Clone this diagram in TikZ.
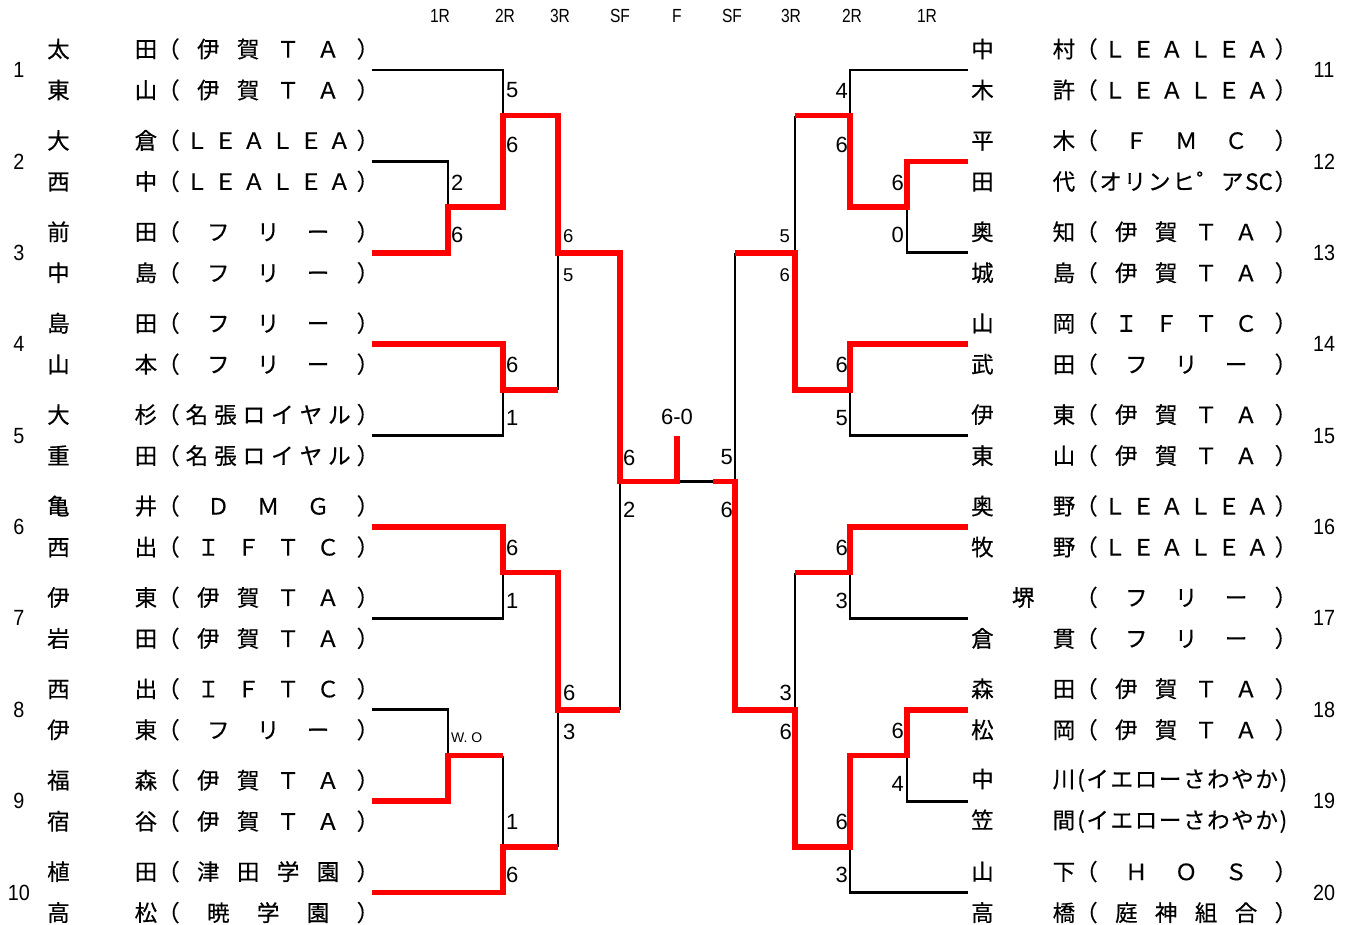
\documentclass[tikz,border=0pt]{standalone}
\usepackage{fontspec}
\setmainfont{Liberation Sans}
\newfontfamily\jp{Noto Sans CJK JP}[FakeBold=0.4]
\def\sprend{}
\def\sprloop#1{\ifx\sprend#1\else\hfill#1\expandafter\sprloop\fi}
\def\sprfirst#1{#1\sprloop}
\newcommand\spr[2]{\makebox[#1][s]{\sprfirst#2\sprend}}
\newcommand\nmL[2]{\spr{110pt}{#1}\spr{222pt}{#2}}
\newcommand\nmR[2]{\spr{104pt}{#1}\spr{222pt}{#2}}
\newcommand\nmRp[2]{\spr{104pt}{#1}\makebox[222pt][l]{\hspace{2pt}\spr{210pt}{#2}}}
\begin{document}
\begin{tikzpicture}[x=1pt,y=-1pt,
  nm/.style={anchor=west,inner sep=0pt,font=\jp\fontsize{22.5}{26}\selectfont},
  seed/.style={inner sep=0pt,font=\fontsize{22}{22}\selectfont},
  hdr/.style={inner sep=0pt,font=\fontsize{19}{19}\selectfont},
  sc/.style={inner sep=0pt,font=\fontsize{22}{22}\selectfont},
  scs/.style={inner sep=0pt,font=\fontsize{18.5}{18.5}\selectfont},
  lose/.style={draw=black,line width=2.8pt},
  win/.style={draw=red,line width=5.5pt}]
\path[use as bounding box] (0,0) rectangle (1355,924);
% header
\foreach \t/\xx [count=\i] in {1R/440,2R/505,3R/560,SF/620,F/677,SF/732,3R/791,2R/852,1R/927}
  \node[hdr] (h\i) at (\xx,16) {\scalebox{0.82}[1]{\t}};
% seeds
\foreach \s/\yy in {1/70,2/161.4,3/252.8,4/344.2,5/435.6,6/527,7/618.4,8/709.8,9/801.2,10/892.6}
  \node[seed] (seed\s) at (19,\yy) {\scalebox{0.9}[1]{\s}};
\foreach \s/\yy in {11/70,12/161.4,13/252.8,14/344.2,15/435.6,16/527,17/618.4,18/709.8,19/801.2,20/892.6}
  \node[seed] (seed\s) at (1324,\yy) {\scalebox{0.9}[1]{\s}};
% left names
\node[nm] (L1a) at (47,49) {\nmL{太田}{（伊賀ＴＡ）}};
\node[nm] (L1b) at (47,90) {\nmL{東山}{（伊賀ＴＡ）}};
\node[nm] (L2a) at (47,140.4) {\nmL{大倉}{（ＬＥＡＬＥＡ）}};
\node[nm] (L2b) at (47,181.4) {\nmL{西中}{（ＬＥＡＬＥＡ）}};
\node[nm] (L3a) at (47,231.8) {\nmL{前田}{（フリー）}};
\node[nm] (L3b) at (47,272.8) {\nmL{中島}{（フリー）}};
\node[nm] (L4a) at (47,323.2) {\nmL{島田}{（フリー）}};
\node[nm] (L4b) at (47,364.2) {\nmL{山本}{（フリー）}};
\node[nm] (L5a) at (47,414.6) {\nmL{大杉}{（名張ロイヤル）}};
\node[nm] (L5b) at (47,455.6) {\nmL{重田}{（名張ロイヤル）}};
\node[nm] (L6a) at (47,506) {\nmL{亀井}{（ＤＭＧ）}};
\node[nm] (L6b) at (47,547) {\nmL{西出}{（ＩＦＴＣ）}};
\node[nm] (L7a) at (47,597.4) {\nmL{伊東}{（伊賀ＴＡ）}};
\node[nm] (L7b) at (47,638.4) {\nmL{岩田}{（伊賀ＴＡ）}};
\node[nm] (L8a) at (47,688.8) {\nmL{西出}{（ＩＦＴＣ）}};
\node[nm] (L8b) at (47,729.8) {\nmL{伊東}{（フリー）}};
\node[nm] (L9a) at (47,780.2) {\nmL{福森}{（伊賀ＴＡ）}};
\node[nm] (L9b) at (47,821.2) {\nmL{宿谷}{（伊賀ＴＡ）}};
\node[nm] (L10a) at (47,871.6) {\nmL{植田}{（津田学園）}};
\node[nm] (L10b) at (47,912.6) {\nmL{高松}{（暁学園）}};
% right names
\node[nm] (R11a) at (971,49) {\nmR{中村}{（ＬＥＡＬＥＡ）}};
\node[nm] (R11b) at (971,90) {\nmR{木許}{（ＬＥＡＬＥＡ）}};
\node[nm] (R12a) at (971,140.4) {\nmR{平木}{（ＦＭＣ）}};
\node[nm] (R12b) at (971,181.4) {\nmR{田代}{（オリンヒ゜ア{SC}）}};
\node[nm] (R13a) at (971,231.8) {\nmR{奥知}{（伊賀ＴＡ）}};
\node[nm] (R13b) at (971,272.8) {\nmR{城島}{（伊賀ＴＡ）}};
\node[nm] (R14a) at (971,323.2) {\nmR{山岡}{（ＩＦＴＣ）}};
\node[nm] (R14b) at (971,364.2) {\nmR{武田}{（フリー）}};
\node[nm] (R15a) at (971,414.6) {\nmR{伊東}{（伊賀ＴＡ）}};
\node[nm] (R15b) at (971,455.6) {\nmR{東山}{（伊賀ＴＡ）}};
\node[nm] (R16a) at (971,506) {\nmR{奥野}{（ＬＥＡＬＥＡ）}};
\node[nm] (R16b) at (971,547) {\nmR{牧野}{（ＬＥＡＬＥＡ）}};
\node[nm] (R17a) at (971,597.4) {\makebox[104pt][c]{堺}\spr{222pt}{（フリー）}};
\node[nm] (R17b) at (971,638.4) {\nmR{倉貫}{（フリー）}};
\node[nm] (R18a) at (971,688.8) {\nmR{森田}{（伊賀ＴＡ）}};
\node[nm] (R18b) at (971,729.8) {\nmR{松岡}{（伊賀ＴＡ）}};
\node[nm] (R19a) at (971,780.2) {\nmRp{中川}{(イエローさわやか)}};
\node[nm] (R19b) at (971,821.2) {\nmRp{笠間}{(イエローさわやか)}};
\node[nm] (R20a) at (971,871.6) {\nmR{山下}{（ＨＯＳ）}};
\node[nm] (R20b) at (971,912.6) {\nmR{高橋}{（庭神組合）}};
% entry line starts
\foreach \s/\yy in {1/70,2/161.4,3/252.8,4/344.2,5/435.6,6/527,7/618.4,8/709.8,9/801.2,10/892.6}
  \coordinate (P\s) at (372,\yy);
\foreach \s/\yy in {11/70,12/161.4,13/252.8,14/344.2,15/435.6,16/527,17/618.4,18/709.8,19/801.2,20/892.6}
  \coordinate (P\s) at (968,\yy);
% junctions left
\coordinate (A23) at (448,207.1);
\coordinate (A89) at (448,755.5);
\coordinate (B1) at (503,115.7);
\coordinate (B45) at (503,389.9);
\coordinate (B67) at (503,572.7);
\coordinate (B910) at (503,846.9);
\coordinate (C1) at (558,252.8);
\coordinate (C2) at (558,709.8);
\coordinate (D) at (620,481.3);
\coordinate (F) at (677,481.3);
\coordinate (Ftop) at (677,436);
\coordinate (FR) at (713,481.3);
% junctions right
\coordinate (A1213) at (907,207.1);
\coordinate (A1819) at (907,755.5);
\coordinate (B11) at (850,115.7);
\coordinate (B1415) at (850,389.9);
\coordinate (B1617) at (850,572.7);
\coordinate (B1820) at (850,846.9);
\coordinate (C3) at (795,252.8);
\coordinate (C4) at (795,709.8);
\coordinate (E) at (735,481.3);
% losing lines
\draw[lose] (P1) -| (B1);
\draw[lose] (P2) -| (A23);
\draw[lose] (P5) -| (B45);
\draw[lose] (C1 |- B45) -- (C1);
\draw[lose] (P7) -| (B67);
\draw[lose] (P8) -| (A89);
\draw[lose] (A89 -| B910) -- (B910);
\draw[lose] (C2 |- B910) -- (C2);
\draw[lose] (D |- C2) -- (D);
\draw[lose] (F) -- (FR);
\draw[lose] (P11) -| (B11);
\draw[lose] (P13) -| (A1213);
\draw[lose] (P15) -| (B1415);
\draw[lose] (P17) -| (B1617);
\draw[lose] (P19) -| (A1819);
\draw[lose] (P20) -| (B1820);
\draw[lose] (C3 |- B11) -- (C3);
\draw[lose] (C4 |- B1617) -- (C4);
\draw[lose] (E |- C3) -- (E);
% winning lines
\draw[win] (P3) -| (A23) -| (B1) -| (C1) -| (D) -- (F) -- (Ftop);
\draw[win] (P4) -| (B45) -- (B45 -| C1);
\draw[win] (P6) -| (B67) -| (C2) -- (C2 -| D);
\draw[win] (P9) -| (A89) -- (A89 -| B910);
\draw[win] (P10) -| (B910) -- (B910 -| C2);
\draw[win] (P12) -| (A1213) -| (B11) -- (B11 -| C3);
\draw[win] (P14) -| (B1415) -| (C3) -- (C3 -| E);
\draw[win] (P16) -| (B1617) -- (B1617 -| C4);
\draw[win] (P18) -| (A1819) -| (B1820) -| (C4) -| (E) -- (FR);
% scores left
\node[sc,anchor=west] (s1) at (451,182.5) {2};
\node[sc,anchor=west] (s2) at (451,234.5) {6};
\node[sc,anchor=west] (s3) at (506,90.5) {5};
\node[sc,anchor=west] (s4) at (506,144.5) {6};
\node[sc,anchor=west] (s5) at (506,365) {6};
\node[sc,anchor=west] (s6) at (506,418) {1};
\node[sc,anchor=west] (s7) at (506,548) {6};
\node[sc,anchor=west] (s8) at (506,601) {1};
\node[sc,anchor=west] (s9) at (506,822) {1};
\node[sc,anchor=west] (s10) at (506,875) {6};
\node[scs,anchor=west] (s11) at (563,236) {6};
\node[scs,anchor=west] (s12) at (563,275) {5};
\node[sc,anchor=west] (s13) at (563,693) {6};
\node[sc,anchor=west] (s14) at (563,732) {3};
\node[sc,anchor=west] (s15) at (623,457.5) {6};
\node[sc,anchor=west] (s16) at (623,509.5) {2};
\node[sc] (fin) at (677,416.5) {6-0};
\node[inner sep=0pt,anchor=west,font=\fontsize{14}{14}\selectfont] (wo) at (451,738) {W. O};
% scores right
\node[sc,anchor=east] (t1) at (848,90.5) {4};
\node[sc,anchor=east] (t2) at (848,144.5) {6};
\node[sc,anchor=east] (t3) at (904,182.5) {6};
\node[sc,anchor=east] (t4) at (904,234.5) {0};
\node[scs,anchor=east] (t5) at (790,236) {5};
\node[scs,anchor=east] (t6) at (790,275) {6};
\node[sc,anchor=east] (t7) at (848,365) {6};
\node[sc,anchor=east] (t8) at (848,418) {5};
\node[sc,anchor=east] (t9) at (733,457.5) {5};
\node[sc,anchor=east] (t10) at (733,509.5) {6};
\node[sc,anchor=east] (t11) at (848,548) {6};
\node[sc,anchor=east] (t12) at (848,601) {3};
\node[sc,anchor=east] (t13) at (792,693) {3};
\node[sc,anchor=east] (t14) at (792,732) {6};
\node[sc,anchor=east] (t15) at (904,731) {6};
\node[sc,anchor=east] (t16) at (904,784) {4};
\node[sc,anchor=east] (t17) at (848,822) {6};
\node[sc,anchor=east] (t18) at (848,875) {3};
\end{tikzpicture}
\end{document}
